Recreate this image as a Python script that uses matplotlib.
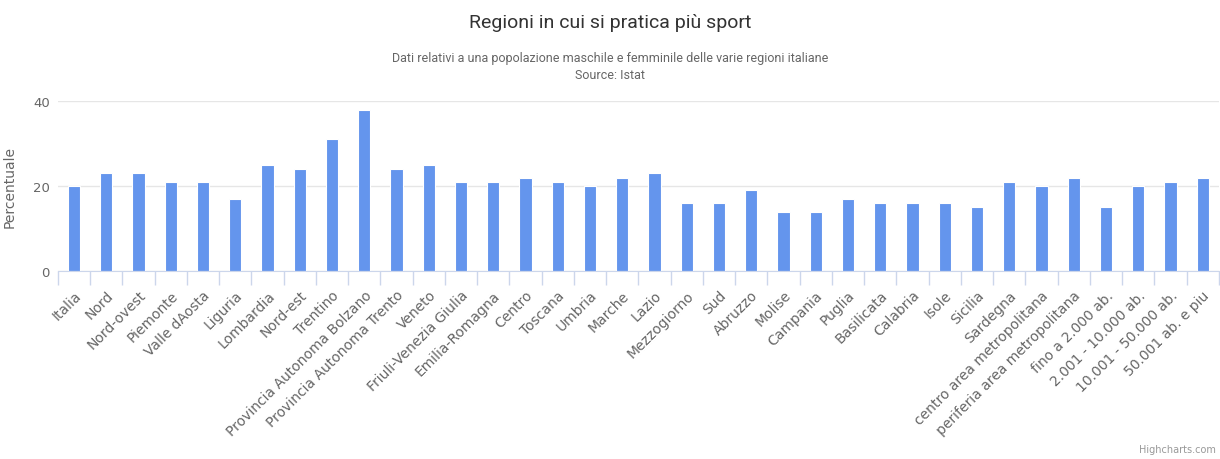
"""Regioni in cui si pratica più sport: bar chart Istat."""

import matplotlib
matplotlib.use("Agg")
import matplotlib.pyplot as plt
import numpy as np

categories = [
    "Italia", "Nord", "Nord-ovest", "Piemonte", "Valle dAosta", "Liguria",
    "Lombardia", "Nord-est", "Trentino", "Provincia Autonoma Bolzano",
    "Provincia Autonoma Trento", "Veneto", "Friuli-Venezia Giulia",
    "Emilia-Romagna", "Centro", "Toscana", "Umbria", "Marche", "Lazio",
    "Mezzogiorno", "Sud", "Abruzzo", "Molise", "Campania", "Puglia",
    "Basilicata", "Calabria", "Isole", "Sicilia", "Sardegna",
    "centro area metropolitana", "periferia area metropolitana",
    "fino a 2.000 ab.", "2.001 - 10.000 ab.", "10.001 - 50.000 ab.",
    "50.001 ab. e piu",
]
values = [
    20, 23, 23, 21, 21, 17, 25, 24, 31, 38, 24, 25, 21, 21, 22, 21, 20, 22,
    23, 16, 16, 19, 14, 14, 17, 16, 16, 16, 15, 21, 20, 22, 15, 20, 21, 22,
]
y_ticks = [0, 20, 40]

title = "Regioni in cui si pratica più sport"
subtitle = "Dati relativi a una popolazione maschile e femminile delle varie regioni italiane\nSource: Istat"
y_label = "Percentuale"

bar_color = "#6495ED"
axis_color = "#ccd6eb"
grid_color = "#e6e6e6"
text_color = "#666666"
narrow = ["Roboto", "DejaVu Sans"]

fig = plt.figure(figsize=(12.2, 4.6), dpi=100)
ax = fig.add_axes([58 / 1220, 1 - 272 / 460, 1 - 58 / 1220 - 0.001, 170 / 460])

x = np.arange(len(categories))
ax.bar(x, values, width=0.38, color=bar_color, edgecolor="white", linewidth=0.8, zorder=3)

ax.set_xlim(-0.5, len(categories) - 0.5)
ax.set_ylim(0, 40)
ax.set_yticks(y_ticks)
ax.yaxis.grid(True, color=grid_color, linewidth=1, zorder=0)
ax.tick_params(axis="y", length=0, labelsize=9.5, labelcolor=text_color, pad=6)

ax.set_xticks(x)
ax.set_xticklabels(categories, rotation=45, ha="right", rotation_mode="anchor",
                   fontsize=10, color=text_color)
ax.tick_params(axis="x", which="major", length=0, pad=12)
ax.set_xticks(np.arange(-0.5, len(categories), 1), minor=True)
ax.tick_params(axis="x", which="minor", length=10, color=axis_color, width=1)

for side in ["top", "right", "left"]:
    ax.spines[side].set_visible(False)
ax.spines["bottom"].set_color(axis_color)
ax.spines["bottom"].set_zorder(4)

ax.set_ylabel(y_label, fontsize=10, color=text_color, labelpad=12)

fig.text(0.5, 1 - 23 / 460, title, ha="center", va="center", fontsize=14,
         color="#333333", family=narrow)
fig.text(0.5, 1 - 67 / 460, subtitle, ha="center", va="center", fontsize=9,
         color=text_color, family=narrow, linespacing=1.4)
fig.text(1 - 4 / 1220, 1 - 455 / 460, "Highcharts.com", ha="right", va="bottom",
         fontsize=7, color="#999999")

fig.savefig("out.png", dpi=100)
plt.close(fig)
